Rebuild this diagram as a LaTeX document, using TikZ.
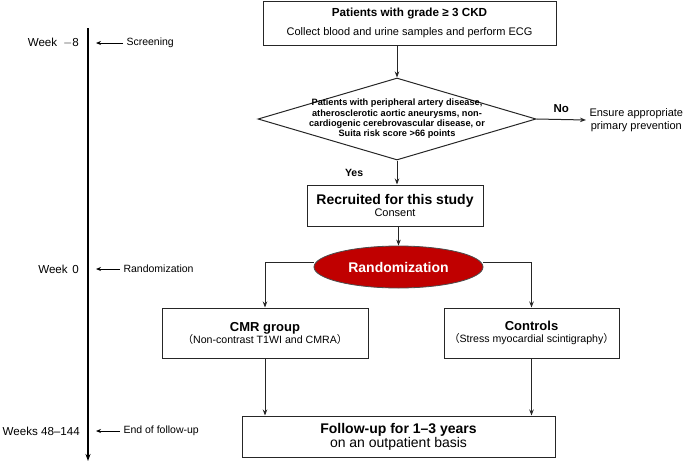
\documentclass[tikz,border=0pt]{standalone}
\usepackage{fontspec}
\setmainfont{Liberation Sans}
\newfontfamily\cjk{Noto Sans CJK JP}
\usepackage{tikz}
\usetikzlibrary{arrows.meta,shapes,positioning}

\definecolor{randred}{HTML}{C00000}

\tikzset{
    box/.style={draw=black!85, line width=1pt, fill=white, align=center, inner sep=2pt},
    decision/.style={draw=black!85, line width=1pt, diamond, inner sep=0pt},
    flow/.style={draw=black!85, line width=1pt, -{Stealth[length=6pt,width=4.5pt]}},
    weeklabel/.style={anchor=east, inner sep=1pt, font=\fontsize{11.6}{14}\selectfont},
    eventlabel/.style={anchor=west, font=\fontsize{10.5}{12}\selectfont},
}

\begin{document}
\begin{tikzpicture}[x=1pt, y=-1pt]
    \useasboundingbox (0,0) rectangle (685,461);

    % time line on the left
    \coordinate (tltop) at (88,28);
    \coordinate (tlend) at (88,461);
    \draw[line width=1.6pt, -{Stealth[length=7pt,width=5pt]}] (tltop) -- (tlend);

    \node[weeklabel] (wk8) at (80,43) {Week\hspace{0.5em}$-$8};
    \node[weeklabel] (wk0) at (80,269) {Week\hspace{0.4em}0};
    \node[weeklabel] (wk48) at (81,431) {Weeks 48--144};

    \node[eventlabel] (scr) at (123,43) {Screening};
    \node[eventlabel] (rnd) at (120,269) {Randomization};
    \node[eventlabel] (eof) at (120,431) {End of follow-up};

    \foreach \ev in {scr,rnd,eof}
        \draw[line width=1pt, -{Stealth[length=5pt,width=4pt]}] (\ev.west) -- ([xshift=8pt]\ev.west -| tltop);

    % main flow
    \node[box, minimum width=293pt, minimum height=44pt] (ckd) at (409.5,23)
        {{\bfseries\fontsize{11.7}{13}\selectfont Patients with grade ≥ 3 CKD}\\[7pt]
         {\fontsize{11}{12}\selectfont Collect blood and urine samples and perform ECG}};

    \node[decision, minimum width=278pt, minimum height=82pt] (elig) at (397,119) {};
    \node[align=center, font=\bfseries\fontsize{9.2}{10.3}\selectfont] (eligtext) at (elig.center)
        {Patients with peripheral artery disease,\\
         atherosclerotic aortic aneurysms, non-\\
         cardiogenic cerebrovascular disease, or\\
         Suita risk score >66 points};

    \node[anchor=west, align=center, font=\fontsize{11}{13}\selectfont] (prev) at (586,120)
        {Ensure appropriate\\primary prevention};

    \node[box, minimum width=176pt, minimum height=41pt] (rec) at (395,205.5)
        {{\bfseries\fontsize{14}{15}\selectfont Recruited for this study}\\
         {\fontsize{11}{12}\selectfont Consent}};

    \node[ellipse, draw=black!70, line width=0.8pt, fill=randred, text=white,
          minimum width=169pt, minimum height=42pt, font=\bfseries\fontsize{14}{16}\selectfont] (rand) at (398.5,267)
        {Randomization};

    \node[box, minimum width=206pt, minimum height=50pt] (cmr) at (265,333)
        {{\bfseries\fontsize{13}{16}\selectfont CMR group}\\
         {\fontsize{10.6}{12}\selectfont{\cjk （}Non-contrast T1WI and CMRA{\cjk ）}}};

    \node[box, minimum width=175pt, minimum height=50pt] (ctrl) at (531.5,333)
        {{\bfseries\fontsize{13}{16}\selectfont Controls}\\
         {\fontsize{10.6}{12}\selectfont{\cjk （}Stress myocardial scintigraphy{\cjk ）}}};

    \node[box, minimum width=313pt, minimum height=41pt] (fu) at (398.5,436.5)
        {{\bfseries\fontsize{14}{15}\selectfont Follow-up for 1--3 years}\\
         {\fontsize{14}{15}\selectfont on an outpatient basis}};

    % connectors
    \draw[flow] (elig.north |- ckd.south) -- (elig.north);
    \draw[flow] (elig.east) -- (prev.west) node[midway, above=3pt, font=\bfseries\fontsize{11.5}{13}\selectfont] (no) {No};
    \draw[flow] (elig.south) -- (elig.south |- rec.north) node[midway, left=30pt, font=\bfseries\fontsize{10.5}{12}\selectfont] (yes) {Yes};
    \draw[flow] (rec.south -| rand.north) -- (rand.north);
    \draw[flow] ([yshift=5pt]rand.west) -| (cmr.north);
    \draw[flow] ([yshift=5pt]rand.east) -| (ctrl.north);
    \draw[flow] (cmr.south) -- (cmr.south |- fu.north);
    \draw[flow] (ctrl.south) -- (ctrl.south |- fu.north);
\end{tikzpicture}
\end{document}
